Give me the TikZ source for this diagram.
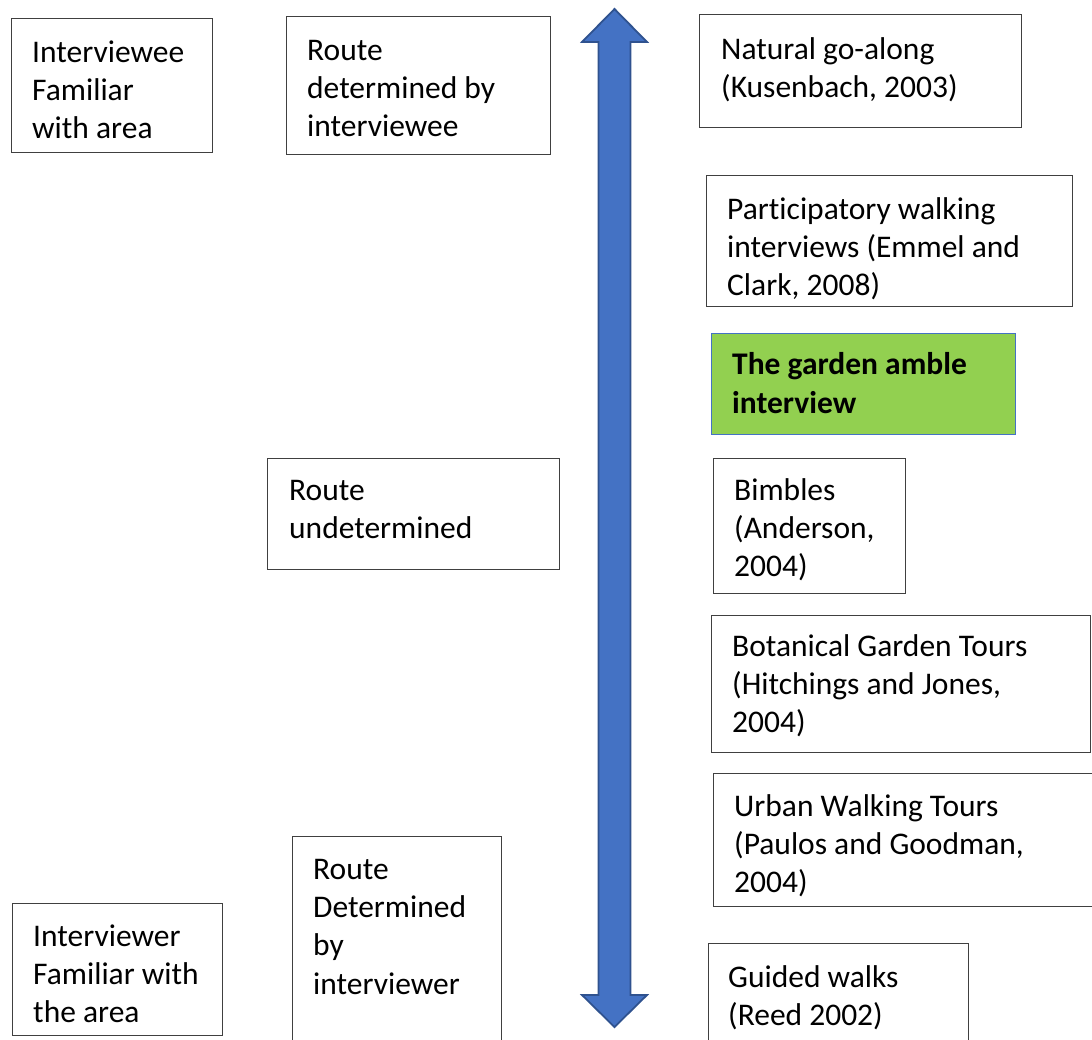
\documentclass[tikz,border=0pt]{standalone}
\usepackage{fontspec}
\setmainfont{Carlito}[Ligatures={NoCommon}]
\definecolor{arrowfill}{HTML}{4472C4}
\definecolor{arrowline}{HTML}{2F528F}
\definecolor{greenfill}{HTML}{92D050}
\definecolor{boxline}{HTML}{404040}
\tikzset{
  box/.style={draw=boxline, line width=1.2pt, fill=white, rectangle, inner sep=0pt, anchor=north west},
  greenbox/.style={draw=arrowfill, line width=1pt, fill=greenfill, rectangle, inner sep=0pt, anchor=north west},
  txt/.style={anchor=base west, inner sep=0pt, font=\fontsize{31.5}{38.4}\selectfont},
  btxt/.style={txt, font=\fontsize{31.5}{39.5}\selectfont\bfseries},
}
\newcommand{\lines}[1]{\parbox[t]{12cm}{#1}}
\begin{document}
\begin{tikzpicture}[x=1pt,y=-1pt]
\useasboundingbox (0,0) rectangle (1092,1039);
\clip (0,0) rectangle (1092,1039);
% double arrow
\draw[fill=arrowfill, draw=arrowline, line width=1.8pt, line join=miter]
  (614.5,9) -- (647,42) -- (630.5,42) -- (630.5,995) -- (647,995) -- (614.5,1027)
  -- (582,995) -- (598.5,995) -- (598.5,42) -- (582,42) -- cycle;
% boxes
\node[box, minimum width=201pt, minimum height=134pt] (b1) at (11,18) {};
\node[txt] (t1) at ([shift={(21,44)}]b1.north west) {\lines{Interviewee\\Familiar\\with area}};

\node[box, minimum width=264pt, minimum height=138pt] (b2) at (286,16) {};
\node[txt] (t2) at ([shift={(21,44)}]b2.north west) {\lines{Route\\determined by\\interviewee}};

\node[box, minimum width=322pt, minimum height=113pt] (b3) at (699,14) {};
\node[txt] (t3) at ([shift={(22,45)}]b3.north west) {\lines{Natural go-along\\(Kusenbach, 2003)}};

\node[box, minimum width=366pt, minimum height=131pt] (b4) at (706,175) {};
\node[txt] (t4) at ([shift={(21,44)}]b4.north west) {\lines{Participatory walking\\interviews (Emmel and\\Clark, 2008)}};

\node[greenbox, minimum width=304pt, minimum height=101pt] (b5) at (711,333) {};
\node[btxt] (t5) at ([shift={(21,41)}]b5.north west) {\lines{The garden amble\\interview}};

\node[box, minimum width=292pt, minimum height=111pt] (b6) at (267,458) {};
\node[txt] (t6) at ([shift={(22,42)}]b6.north west) {\lines{Route\\undetermined}};

\node[box, minimum width=192pt, minimum height=135pt] (b7) at (713,458) {};
\node[txt] (t7) at ([shift={(21,42)}]b7.north west) {\lines{Bimbles\\(Anderson,\\2004)}};

\node[box, minimum width=379pt, minimum height=137pt] (b8) at (711,615) {};
\node[txt] (t8) at ([shift={(21,41)}]b8.north west) {\lines{Botanical Garden Tours\\(Hitchings and Jones,\\2004)}};

\node[box, minimum width=384pt, minimum height=133pt] (b9) at (713,773) {};
\node[txt] (t9) at ([shift={(21,43)}]b9.north west) {\lines{Urban Walking Tours\\(Paulos and Goodman,\\2004)}};

\node[box, minimum width=209pt, minimum height=215pt] (b10) at (292,836) {};
\node[txt] (t10) at ([shift={(21,43)}]b10.north west) {\lines{Route\\Determined\\by\\interviewer}};

\node[box, minimum width=210pt, minimum height=132pt] (b11) at (12,903) {};
\node[txt] (t11) at ([shift={(21,43)}]b11.north west) {\lines{Interviewer\\Familiar with\\the area}};

\node[box, minimum width=260pt, minimum height=110pt] (b12) at (708,943) {};
\node[txt] (t12) at ([shift={(20,44)}]b12.north west) {\lines{Guided walks\\(Reed 2002)}};
\end{tikzpicture}
\end{document}
